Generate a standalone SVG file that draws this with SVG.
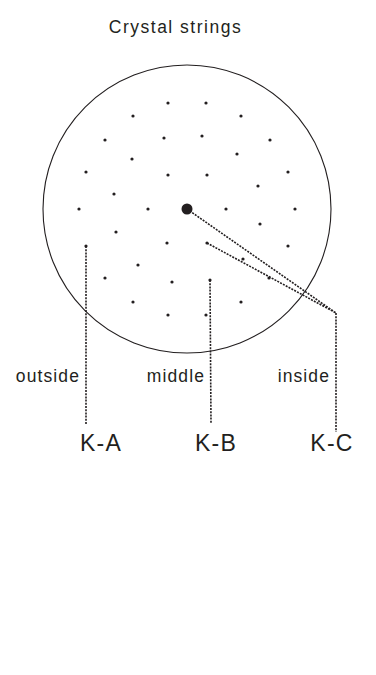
<svg xmlns="http://www.w3.org/2000/svg" width="376" height="675" viewBox="0 0 376 675">
<style>
.t{font-family:"Liberation Sans",Arial,sans-serif;fill:#231f20}
.title{font-size:17.5px;letter-spacing:1.5px}
.lab{font-size:17.5px;letter-spacing:1.1px}
.k{font-size:23px;letter-spacing:1.3px}
.d{fill:#231f20}
.dash{fill:none;stroke:#231f20;stroke-width:1.6;stroke-dasharray:2 1.2}
</style>
<rect width="376" height="675" fill="#fff"/>
<text class="t title" x="175.5" y="33" text-anchor="middle">Crystal strings</text>
<g id="crystal">
<circle cx="187" cy="209" r="144" fill="none" stroke="#231f20" stroke-width="1.1"/>
<g class="d">
<circle cx="168" cy="103" r="1.6"/><circle cx="206" cy="103" r="1.6"/>
<circle cx="133" cy="116" r="1.6"/><circle cx="241" cy="116" r="1.6"/>
<circle cx="105" cy="140" r="1.6"/><circle cx="164" cy="138" r="1.6"/><circle cx="202" cy="136" r="1.6"/><circle cx="270" cy="140" r="1.6"/>
<circle cx="132" cy="159" r="1.6"/><circle cx="237" cy="154" r="1.6"/>
<circle cx="86" cy="172" r="1.6"/><circle cx="168" cy="175" r="1.6"/><circle cx="207" cy="175" r="1.6"/><circle cx="288" cy="172" r="1.6"/>
<circle cx="114" cy="194" r="1.6"/><circle cx="258" cy="186" r="1.6"/>
<circle cx="79" cy="209" r="1.6"/><circle cx="148" cy="209" r="1.6"/><circle cx="226" cy="209" r="1.6"/><circle cx="295" cy="209" r="1.6"/>
<circle cx="116" cy="232" r="1.6"/><circle cx="260" cy="224" r="1.6"/>
<circle cx="86" cy="246" r="1.6"/><circle cx="167" cy="243" r="1.6"/><circle cx="207" cy="243" r="1.6"/><circle cx="288" cy="246" r="1.6"/>
<circle cx="138" cy="265" r="1.6"/><circle cx="243" cy="259" r="1.6"/>
<circle cx="105" cy="278" r="1.6"/><circle cx="172" cy="282" r="1.6"/><circle cx="210" cy="280" r="1.6"/><circle cx="269" cy="278" r="1.6"/>
<circle cx="133" cy="302" r="1.6"/><circle cx="241" cy="302" r="1.6"/>
<circle cx="168" cy="315" r="1.6"/><circle cx="206" cy="315" r="1.6"/>
<circle cx="187" cy="209" r="5.5"/>
</g>
</g>
<g id="connectors">
<path class="dash" d="M86 246V424"/>
<path class="dash" d="M210 280L211 423"/>
<path class="dash" d="M187 209L336 313M207 243L336 313M336 313V432"/>
</g>
<g id="label-outside"><text class="t lab" x="80" y="382" text-anchor="end">outside</text></g>
<g id="label-middle"><text class="t lab" x="205" y="382" text-anchor="end">middle</text></g>
<g id="label-inside"><text class="t lab" x="330" y="382" text-anchor="end">inside</text></g>
<g id="K-A"><text class="t k" x="101" y="451" text-anchor="middle">K-A</text></g>
<g id="K-B"><text class="t k" x="216" y="451" text-anchor="middle">K-B</text></g>
<g id="K-C"><text class="t k" x="332" y="451" text-anchor="middle">K-C</text></g>
</svg>
